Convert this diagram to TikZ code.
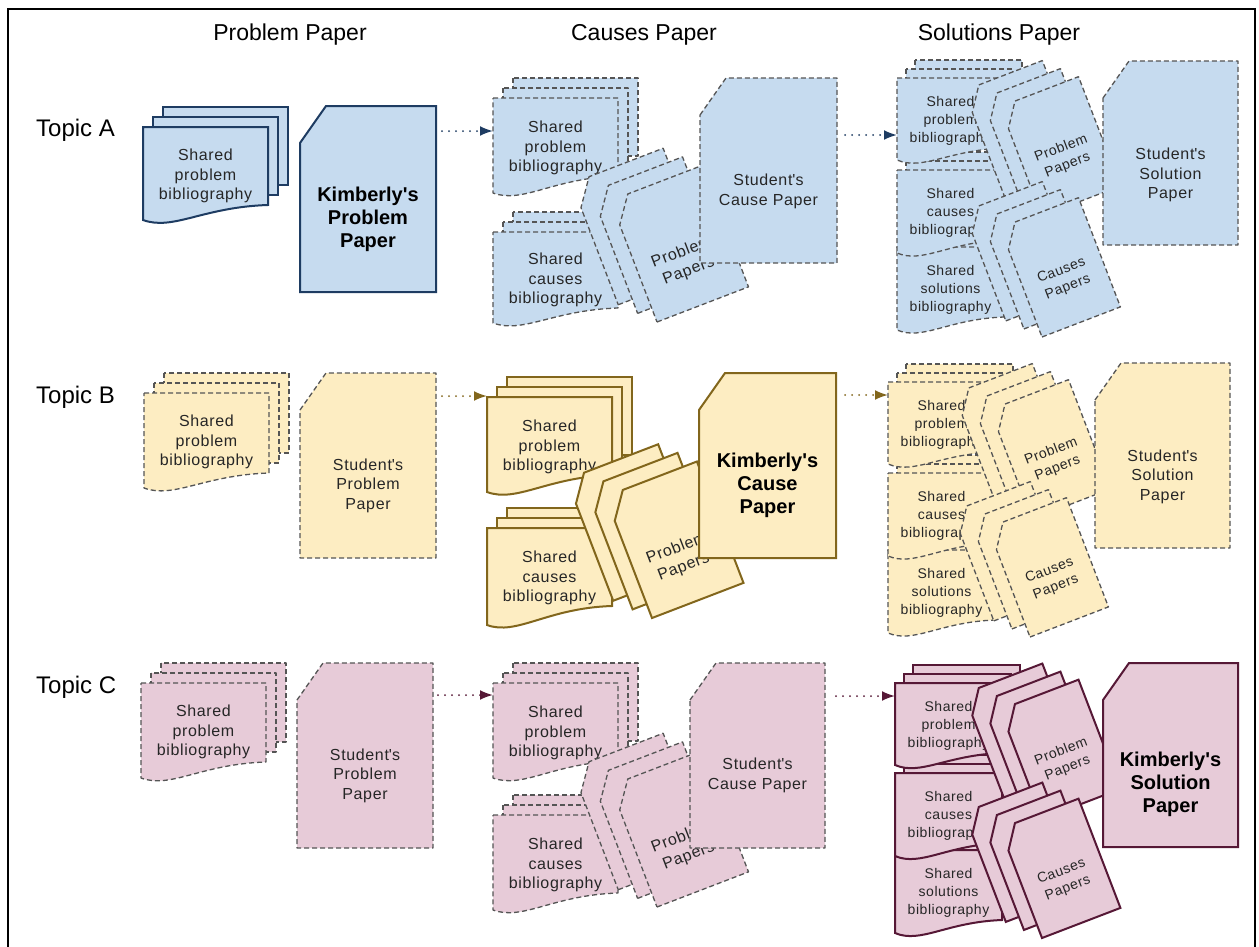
\documentclass[tikz,border=0pt]{standalone}
\usepackage{fontspec}
\setmainfont{Liberation Sans}
\newfontfamily\lsf[LetterSpace=4]{Liberation Sans}
\usetikzlibrary{arrows.meta}
\definecolor{bfill}{RGB}{198,219,239}
\definecolor{bline}{RGB}{30,60,98}
\definecolor{yfill}{RGB}{253,237,194}
\definecolor{yline}{RGB}{130,102,28}
\definecolor{pfill}{RGB}{231,203,216}
\definecolor{pline}{RGB}{86,24,54}
\definecolor{dgrey}{RGB}{85,85,85}
\newcounter{nd}
\tikzset{
  dsh/.style={draw=dgrey, line width=1.3pt, dash pattern=on 5pt off 3pt, line join=round},
  sol/.style={line width=2pt, line join=miter},
  bA/.style={fill=bfill, dsh}, bK/.style={fill=bfill, draw=bline, sol},
  yA/.style={fill=yfill, dsh}, yK/.style={fill=yfill, draw=yline, sol},
  pA/.style={fill=pfill, dsh}, pK/.style={fill=pfill, draw=pline, sol},
  smalltext/.style={font=\lsf\fontsize{16}{19.5}\selectfont, align=center, text=black!85, inner sep=0pt},
  smallertext/.style={font=\lsf\fontsize{14}{18}\selectfont, align=center, text=black!85, inner sep=0pt},
  mtext/.style={smalltext},
  bigtext/.style={font=\fontsize{20}{23}\selectfont\bfseries, align=center, text=black, inner sep=0pt},
  hdr/.style={font=\fontsize{23}{27}\selectfont, text=black, inner sep=0pt},
  arr/.style={draw=#1, line width=2pt, line cap=round, dash pattern=on 0pt off 7pt, -{Latex[length=13pt,width=10pt]}}
}
% multi-document stack: x,y (front top-left), w, hl, hr, step, style, text, text y
\newcommand{\mdoc}[9]{%
  \begin{scope}[shift={(#1,#2)}]
    \path[#7] ({2*#6},{-2*#6}) rectangle ++(#3,#5);
    \path[#7] (#6,-#6) rectangle ++(#3,#5);
    \path[#7] (0,0) -- (#3,0) -- (#3,#5) .. controls ({0.48*#3},{#5+2}) and ({0.24*#3},{#4+11}) .. (0,#4) -- cycle;
    \stepcounter{nd}\node[mtext] (t\arabic{nd}) at ({#3/2},#9) {#8};
  \end{scope}}
% one card with cut corner, origin bottom-left: w,h,style,ox,oy
\newcommand{\onecard}[5]{%
  \path[#3] (#4,#5) -- ++(#1,0) -- ++(0,-#2) -- ++({-0.81*#1},0) -- ++({-0.19*#1},{0.2*#2}) -- cycle;}
% stack of three rotated cards: x,y (front bottom-left), w, h, step, style, text, tx, ty
\newcommand{\cstack}[9]{%
  \begin{scope}[shift={(#1,#2)},rotate=21]
    \onecard{#3}{#4}{#6}{-2*#5}{-2*#5}
    \onecard{#3}{#4}{#6}{-#5}{-#5}
    \onecard{#3}{#4}{#6}{0}{0}
    \stepcounter{nd}\node[mtext,transform shape] (t\arabic{nd}) at (#8,#9) {#7};
  \end{scope}}
% paper with cut corner: x1,y1,x2,y2,style,textstyle,text,text dy
\newcommand{\paper}[8]{%
  \path[#5] (#1,#2+37) -- (#1+26,#2) -- (#3,#2) -- (#3,#4) -- (#1,#4) -- cycle;
  \stepcounter{nd}\node[#6] (t\arabic{nd}) at ({(#1+#3)/2},{(#2+#4)/2+#8}) {#7};}
\newcommand{\q}{\textquotesingle}
\newcommand{\smallmode}{\tikzset{mtext/.style={smalltext}}}
\newcommand{\smallermode}{\tikzset{mtext/.style={smallertext}}}
\begin{document}
\begin{tikzpicture}[x=1pt,y=-1pt]
\useasboundingbox (0,0) rectangle (1259,946);
\fill[white] (0,0) rectangle (1259,946);
\draw[line width=2pt] (8,950) -- (8,9) -- (1255,9) -- (1255,950);
% headers
\node[hdr] (h1) at (290,35) {Problem Paper};
\node[hdr] (h2) at (644,35) {Causes Paper};
\node[hdr] (h3) at (999,35) {Solutions Paper};
\node[hdr,font=\fontsize{24}{28}\selectfont,anchor=west] (ta) at (36,130) {Topic A};
\node[hdr,font=\fontsize{24}{28}\selectfont,anchor=west] (tb) at (36,397) {Topic B};
\node[hdr,font=\fontsize{24}{28}\selectfont,anchor=west] (tc) at (36,687) {Topic C};
% ---------------- Topic A
\smallmode
\mdoc{143}{127}{125}{93}{78}{10}{bK}{Shared\\problem\\bibliography}{49}
\paper{300}{106}{436}{292}{bK}{bigtext}{Kimberly\q s\\Problem\\Paper}{20}
\coordinate (a1s) at (442,131); \coordinate (a1e) at (493,131);
\draw[arr=bline] (a1s) -- (a1e);
\mdoc{493}{98}{125}{95}{78}{10}{bA}{Shared\\problem\\bibliography}{50}
\mdoc{493}{232}{125}{91}{76}{10}{bA}{Shared\\causes\\bibliography}{48}
\cstack{657}{322}{98}{130}{15}{bA}{Problem\\Papers}{48}{-46}
\paper{700}{78}{837}{263}{bA}{smalltext}{Student\q s\\Cause Paper}{21}
\coordinate (a2s) at (845,135); \coordinate (a2e) at (897,135);
\draw[arr=bline] (a2s) -- (a2e);
\smallermode
\mdoc{897}{247}{107}{83}{70}{9}{bA}{Shared\\solutions\\bibliography}{43}
\mdoc{897}{170}{107}{83}{70}{9}{bA}{Shared\\causes\\bibliography}{43}
\mdoc{897}{78}{107}{82}{70}{9}{bA}{Shared\\problem\\bibliography}{43}
\cstack{1042}{216}{84}{117}{14}{bA}{Problem\\Papers}{42}{-47}
\cstack{1042}{337}{84}{117}{14}{bA}{Causes\\Papers}{42}{-46}
\paper{1103}{61}{1238}{245}{bA}{smalltext}{Student\q s\\Solution\\Paper}{22}
% ---------------- Topic B
\smallmode
\mdoc{144}{393}{125}{95}{80}{10}{yA}{Shared\\problem\\bibliography}{49}
\paper{300}{373}{436}{558}{yA}{smalltext}{Student\q s\\Problem\\Paper}{20}
\coordinate (b1s) at (442,396); \coordinate (b1e) at (487,396);
\draw[arr=yline] (b1s) -- (b1e);
\mdoc{487}{397}{125}{95}{78}{10}{yK}{Shared\\problem\\bibliography}{50}
\mdoc{487}{528}{125}{97}{78}{10}{yK}{Shared\\causes\\bibliography}{50}
\cstack{652}{618}{98}{130}{15}{yK}{Problem\\Papers}{48}{-46}
\paper{699}{373}{836}{558}{yK}{bigtext}{Kimberly\q s\\Cause\\Paper}{20}
\coordinate (b2s) at (845,395); \coordinate (b2e) at (888,395);
\draw[arr=yline] (b2s) -- (b2e);
\smallermode
\mdoc{888}{550}{107}{83}{70}{9}{yA}{Shared\\solutions\\bibliography}{43}
\mdoc{888}{473}{107}{83}{70}{9}{yA}{Shared\\causes\\bibliography}{43}
\mdoc{888}{382}{107}{82}{70}{9}{yA}{Shared\\problem\\bibliography}{43}
\cstack{1032}{519}{84}{117}{14}{yA}{Problem\\Papers}{42}{-47}
\cstack{1030}{637}{84}{117}{14}{yA}{Causes\\Papers}{42}{-46}
\paper{1095}{363}{1230}{548}{yA}{smalltext}{Student\q s\\Solution\\Paper}{21}
% ---------------- Topic C
\smallmode
\mdoc{141}{683}{125}{95}{79}{10}{pA}{Shared\\problem\\bibliography}{49}
\paper{297}{663}{433}{848}{pA}{smalltext}{Student\q s\\Problem\\Paper}{20}
\coordinate (c1s) at (438,695); \coordinate (c1e) at (493,695);
\draw[arr=pline] (c1s) -- (c1e);
\mdoc{493}{683}{125}{95}{78}{10}{pA}{Shared\\problem\\bibliography}{50}
\mdoc{493}{815}{125}{95}{78}{10}{pA}{Shared\\causes\\bibliography}{50}
\cstack{657}{907}{98}{130}{15}{pA}{Problem\\Papers}{48}{-46}
\paper{690}{663}{825}{848}{pA}{smalltext}{Student\q s\\Cause Paper}{20}
\coordinate (c2s) at (836,696); \coordinate (c2e) at (895,696);
\draw[arr=pline] (c2s) -- (c2e);
\smallermode
\mdoc{895}{850}{107}{83}{70}{9}{pK}{Shared\\solutions\\bibliography}{43}
\mdoc{895}{773}{107}{83}{70}{9}{pK}{Shared\\causes\\bibliography}{43}
\mdoc{895}{683}{107}{82}{70}{9}{pK}{Shared\\problem\\bibliography}{43}
\cstack{1042}{819}{84}{117}{14}{pK}{Problem\\Papers}{42}{-47}
\cstack{1042}{938}{84}{117}{14}{pK}{Causes\\Papers}{42}{-46}
\paper{1103}{663}{1238}{847}{pK}{bigtext}{Kimberly\q s\\Solution\\Paper}{29}
\end{tikzpicture}
\end{document}
